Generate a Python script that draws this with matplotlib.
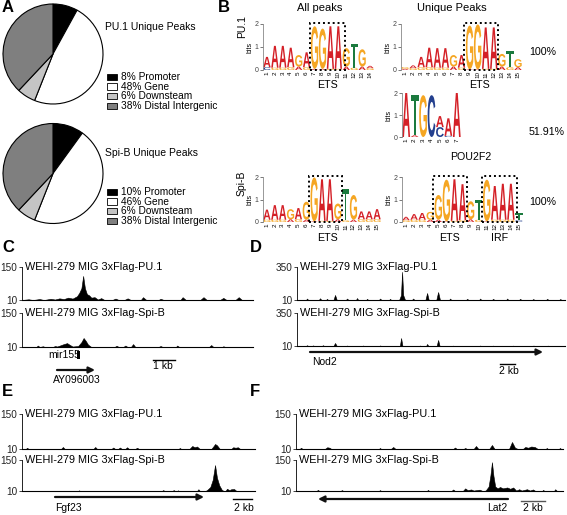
import matplotlib
matplotlib.use('Agg')
import matplotlib.pyplot as plt
from matplotlib.textpath import TextPath
from matplotlib.patches import PathPatch, Rectangle
from matplotlib.font_manager import FontProperties
from matplotlib.transforms import Affine2D

plt.rcParams['font.family'] = ['Liberation Sans', 'DejaVu Sans']

# ---------------- data ----------------
pie_labels = ['Promoter', 'Gene', 'Downsteam', 'Distal Intergenic']
pu1_pie = [8, 48, 6, 38]
spib_pie = [10, 46, 6, 38]
pie_colors = ['#000000', '#ffffff', '#c4c4c4', '#7f7f7f']

# sequence logos: main letter + minor letter per position (bits)
pu1_all_main = list('AAAAGAGGAAGTGA')
pu1_all_h = [0.45, 0.95, 0.95, 0.85, 0.5, 0.65, 1.85, 1.75, 1.85, 1.85, 0.8, 1.05, 0.75, 0.1]
pu1_all_minor = list('CGGGAGAAGGAGAG')
pu1_all_mh = [0.12, 0.1, 0.1, 0.12, 0.15, 0.12, 0.05, 0.05, 0.05, 0.05, 0.15, 0.1, 0.15, 0.08]

pu1_uni_main = list('GAAAAAGAGGAAGTG')
pu1_uni_h = [0.08, 0.12, 0.45, 0.85, 0.85, 0.85, 0.5, 0.55, 1.9, 1.95, 1.8, 1.8, 0.55, 0.7, 0.35]
pu1_uni_minor = list('AGGGGGAGAAGGAGA')
pu1_uni_mh = [0.05, 0.08, 0.12, 0.12, 0.1, 0.1, 0.15, 0.1, 0.03, 0.03, 0.05, 0.05, 0.15, 0.12, 0.12]

pou_main = list('ATGCAAA')
pou_h = [2.0, 1.85, 1.9, 1.9, 0.5, 0.8, 2.0]
pou_minor = list('GAACCCG')
pou_mh = [0.0, 0.08, 0.0, 0.0, 0.45, 0.05, 0.0]

spib_all_main = list('AAAGAGGAAGTGAAA')
spib_all_h = [0.45, 0.65, 0.65, 0.45, 0.5, 0.8, 1.95, 1.85, 1.85, 0.7, 1.4, 1.1, 0.35, 0.35, 0.45]
spib_all_minor = list('GGGAGAAGGAGAGGG')
spib_all_mh = [0.1, 0.1, 0.1, 0.12, 0.12, 0.1, 0.03, 0.05, 0.05, 0.12, 0.08, 0.1, 0.12, 0.12, 0.12]

spib_uni_main = list('AAAGGGAAGTGAAAT')
spib_uni_h = [0.15, 0.25, 0.3, 0.35, 1.1, 1.85, 1.85, 1.6, 0.8, 0.9, 1.85, 1.5, 1.6, 1.6, 0.3]
spib_uni_minor = list('GGGAAAGGAGAGGGC')
spib_uni_mh = [0.08, 0.1, 0.1, 0.1, 0.1, 0.03, 0.05, 0.08, 0.12, 0.1, 0.03, 0.1, 0.1, 0.1, 0.08]

# ChIP-seq tracks: (position in kb, signal)
c_pu1_x = [0, 0.3, 0.5, 0.8, 1.0, 1.3, 1.5, 1.7, 1.9, 2.1, 2.3, 2.5, 2.6, 2.7, 2.78, 2.86, 2.95, 3.05, 3.15, 3.3,
           3.45, 3.6, 3.75, 4.1, 4.25, 4.4, 4.65, 4.8, 4.95, 5.4, 5.5, 5.65, 6.2, 6.3, 6.45, 7.2, 7.3, 7.45, 8.1,
           8.25, 8.4, 9.0, 9.15, 9.3, 9.7, 9.85, 10.0, 10.5]
c_pu1_y = [10, 13, 10, 14, 10, 15, 12, 17, 14, 20, 16, 26, 40, 60, 112, 60, 35, 30, 20, 22,
           12, 18, 10, 10, 16, 10, 10, 17, 10, 10, 22, 10, 10, 15, 10, 10, 22, 10, 10,
           22, 10, 10, 19, 10, 10, 22, 10, 10]
c_spib_x = [0, 0.65, 0.72, 0.8, 0.95, 1.05, 1.4, 1.5, 1.6, 1.9, 2.05, 2.15, 2.3, 2.55, 2.7, 2.8, 2.9, 3.0, 3.15,
            4.2, 4.3, 4.4, 4.6, 4.7, 4.8, 4.95, 5.05, 5.15, 6.2, 6.3, 6.4, 7.0, 7.05, 7.15, 8.5, 8.6, 8.7,
            9.1, 9.15, 9.25, 10.5]
c_spib_y = [10, 10, 16, 10, 13, 10, 10, 14, 12, 22, 26, 20, 12, 14, 30, 47, 35, 20, 10,
            10, 15, 10, 10, 16, 10, 10, 22, 10, 10, 14, 10, 10, 16, 10, 10, 18, 10,
            10, 13, 10, 10]

d_pu1_x = [0, 1.2, 1.33, 1.5, 2.9, 3.07, 3.25, 3.85, 4.0, 4.15, 4.85, 5.07, 5.3, 6.5, 6.67, 6.85, 7.85, 8.0, 8.15,
           9.2, 9.33, 9.5, 10.9, 11.07, 11.25, 12.25, 12.4, 12.55, 13.6, 13.85, 14.0, 14.15, 14.4, 15.3, 15.47,
           15.65, 17.1, 17.33, 17.55, 18.55, 18.8, 19.05, 20.25, 20.4, 20.55, 22.5, 22.67, 22.85, 24.25, 24.4,
           24.55, 25.95, 26.13, 26.3, 27.85, 28.0, 28.15, 29.55, 29.73, 29.9, 31.3, 31.47, 31.65, 33.15, 33.33,
           33.5, 34.9, 35.07, 35.25, 35.7]
d_pu1_y = [10, 10, 25, 10, 10, 28, 10, 10, 22, 10, 10, 62, 10, 10, 25, 10, 10, 30, 10,
           10, 22, 10, 10, 25, 10, 10, 22, 10, 10, 60, 300, 60, 10, 10, 25,
           10, 10, 82, 10, 10, 92, 10, 10, 25, 10, 10, 22, 10, 10, 25,
           10, 10, 22, 10, 10, 25, 10, 10, 22, 10, 10, 20, 10, 10, 22,
           10, 10, 20, 10, 10]
d_spib_x = [0, 1.2, 1.33, 1.5, 2.0, 2.13, 2.3, 3.3, 3.47, 3.6, 4.85, 5.07, 5.3, 6.6, 6.67, 6.8, 8.7, 8.8, 8.95,
            11.0, 11.07, 11.2, 13.7, 13.87, 14.05, 16.3, 16.4, 16.5, 17.2, 17.33, 17.5, 18.6, 18.8, 19.0,
            20.7, 20.8, 20.9, 24.3, 24.4, 24.5, 26.0, 26.13, 26.25, 28.7, 28.8, 28.9, 31.4, 31.5, 31.6,
            33.3, 33.4, 33.5, 35.7]
d_spib_y = [10, 10, 18, 10, 10, 16, 10, 10, 18, 10, 10, 41, 10, 10, 15, 10, 10, 15, 10,
            10, 16, 10, 10, 92, 10, 10, 15, 10, 10, 31, 10, 10, 72, 10,
            10, 14, 10, 10, 15, 10, 10, 14, 10, 10, 14, 10, 10, 15, 10,
            10, 14, 10, 10]

e_pu1_x = [0, 0.4, 0.53, 0.7, 4.1, 4.3, 4.5, 7.5, 7.7, 7.9, 9.4, 9.6, 9.8, 10.1, 10.3, 10.5, 10.85, 11.05, 11.25,
           11.9, 12.1, 12.3, 16.45, 16.6, 16.75, 17.6, 17.9, 18.15, 18.4, 18.7, 19.9, 20.15, 20.3, 20.5, 20.8,
           22.0, 22.2, 22.45, 22.7, 22.95, 24.5]
e_pu1_y = [10, 10, 15, 10, 10, 18, 10, 10, 18, 10, 10, 16, 10, 10, 16, 10, 10, 17, 10,
           10, 15, 10, 10, 14, 10, 10, 22, 17, 20, 10, 10, 22, 30, 25, 10,
           10, 17, 15, 17, 10, 10]
e_spib_x = [0, 5.9, 6.0, 6.1, 14.7, 14.85, 15.0, 15.8, 15.95, 16.1, 16.3, 16.4, 16.5, 18.4, 18.55, 18.7,
            19.3, 19.5, 19.8, 20.05, 20.3, 20.5, 20.75, 21.0, 21.2, 21.4, 21.55, 21.8, 22.0, 22.3, 22.55, 24.5]
e_spib_y = [10, 10, 13, 10, 10, 14, 10, 10, 14, 10, 10, 13, 10, 10, 18, 10,
            10, 16, 28, 60, 127, 70, 35, 16, 10, 10, 20, 14, 18, 19, 10, 10]

f_pu1_x = [0, 0.3, 0.42, 0.55, 2.4, 2.6, 2.8, 2.95, 6.9, 7.0, 7.1, 7.9, 8.1, 8.3, 13.1, 13.25, 13.4, 13.95, 14.1,
           14.25, 14.8, 15.0, 15.2, 16.1, 16.33, 16.55, 17.75, 18.0, 18.25, 18.5, 18.9, 19.1, 19.35, 19.6, 19.9,
           20.15, 20.8, 20.9, 21.0, 21.9, 22.0, 22.1, 22.25]
f_pu1_y = [10, 10, 15, 10, 10, 17, 15, 10, 10, 14, 10, 10, 18, 10, 10, 16, 10, 10, 14,
           10, 10, 22, 10, 10, 26, 10, 10, 38, 15, 10, 10, 18, 15, 20, 18,
           10, 10, 14, 10, 10, 14, 10, 10]
f_spib_x = [0, 1.7, 1.83, 1.95, 3.7, 3.83, 3.95, 6.9, 7.0, 7.1, 10.9, 11.0, 11.1, 12.95, 13.1, 13.25, 13.9, 14.1,
            14.3, 14.6, 14.8, 15.3, 15.55, 15.8, 16.05, 16.2, 16.33, 16.45, 16.6, 16.8, 17.0, 17.25, 17.6, 17.85,
            18.1, 18.35, 18.6, 18.8, 19.25, 19.5, 19.75, 19.95, 20.5, 20.6, 20.7, 21.5, 21.6, 21.75, 22.25]
f_spib_y = [10, 10, 15, 10, 10, 14, 10, 10, 14, 10, 10, 15, 10, 10, 17, 10, 10, 22,
            14, 17, 12, 16, 10, 12, 30, 80, 140, 80, 30, 22, 28, 22, 26, 20,
            26, 12, 18, 12, 18, 12, 17, 10, 10, 15, 10, 10, 18, 10, 10]

track_names = ['WEHI-279 MIG 3xFlag-PU.1', 'WEHI-279 MIG 3xFlag-Spi-B']

# ---------------- figure ----------------
W, H = 567, 515
DPI = 100
fig = plt.figure(figsize=(W / DPI, H / DPI), dpi=DPI)


def px_axes(x0, y0, x1, y1):
    return fig.add_axes([x0 / W, 1 - y1 / H, (x1 - x0) / W, (y1 - y0) / H])


ov = px_axes(0, 0, W, H)
ov.set_xlim(0, W)
ov.set_ylim(H, 0)
ov.axis('off')
ov.set_zorder(10)

# panel letters
for lab, x, y in [('A', 2, 8), ('B', 218, 8), ('C', 2, 248), ('D', 250, 248), ('E', 2, 391), ('F', 250, 391)]:
    ov.text(x, y, lab, ha='left', va='center', fontsize=12, fontweight='bold')

# ---------------- pies ----------------
for cy, vals, title, ty, ly in [(54, pu1_pie, 'PU.1 Unique Peaks', 27, 77),
                                 (173.5, spib_pie, 'Spi-B Unique Peaks', 153, 192)]:
    ax = px_axes(2, cy - 51, 104, cy + 51)
    ax.pie(vals, colors=pie_colors, startangle=90, counterclock=False,
           wedgeprops=dict(edgecolor='black', linewidth=0.8))
    ax.set_xlim(-1.02, 1.02)
    ax.set_ylim(-1.02, 1.02)
    ov.text(105, ty, title, ha='left', va='center', fontsize=7.5)
    for i, (v, lab) in enumerate(zip(vals, pie_labels)):
        y = ly + i * 9.6
        ov.add_patch(Rectangle((107, y - 3.2), 10, 6.4, facecolor=pie_colors[i], edgecolor='black', lw=0.6))
        ov.text(121, y, f'{v}% {lab}', ha='left', va='center', fontsize=7.3)

# ---------------- logos ----------------
LOGO_FP = FontProperties(family='Liberation Sans', weight='bold')
letter_colors = {'A': '#d42027', 'C': '#24408e', 'G': '#f5a623', 'T': '#1b7a3e'}


def draw_letter(ax, ch, x, y0, h, width=0.92):
    tp = TextPath((0, 0), ch, size=1, prop=LOGO_FP)
    bb = tp.get_extents()
    tr = Affine2D().translate(-bb.x0, -bb.y0).scale(width / bb.width, h / bb.height).translate(x - width / 2, y0)
    ax.add_patch(PathPatch(tr.transform_path(tp), facecolor=letter_colors[ch], edgecolor='none'))


def logo(rect, main, main_h, minor, minor_h, boxes):
    ax = px_axes(*rect)
    n = len(main)
    for i in range(n):
        stack = sorted([(minor_h[i], minor[i]), (main_h[i], main[i])])
        y = 0
        for h, ch in stack:
            if h > 0:
                draw_letter(ax, ch, i + 1, y, h)
                y += h
    ax.set_xlim(0.5, n + 0.5)
    ax.set_ylim(0, 2)
    ax.set_xticks(range(1, n + 1))
    ax.set_xticklabels([str(k) for k in range(1, n + 1)], rotation=90, fontsize=4.5)
    ax.tick_params(axis='x', length=0, pad=1)
    ax.set_yticks([0, 1, 2])
    ax.tick_params(axis='y', labelsize=5, length=2, width=0.5, pad=1, colors='#444')
    ax.set_ylabel('bits', fontsize=5, labelpad=1)
    for s in ['top', 'right', 'bottom']:
        ax.spines[s].set_visible(False)
    ax.spines['left'].set_color('#888')
    ax.spines['left'].set_linewidth(0.6)
    for a, b in boxes:
        ax.add_patch(Rectangle((a, 0), b - a, 2.05, fill=False, ls=(0, (1, 1.5)), lw=1.4,
                               ec='black', clip_on=False))
    ax.patch.set_alpha(0)
    return ax


logo((263, 24, 374, 70), pu1_all_main, pu1_all_h, pu1_all_minor, pu1_all_mh, [(6.4, 10.8)])
logo((401, 24, 522, 70), pu1_uni_main, pu1_uni_h, pu1_uni_minor, pu1_uni_mh, [(8.35, 12.55)])
logo((402, 93, 461, 137), pou_main, pou_h, pou_minor, pou_mh, [])
logo((263, 177, 381, 222), spib_all_main, spib_all_h, spib_all_minor, spib_all_mh, [(6.4, 10.6)])
logo((402, 177, 523, 222), spib_uni_main, spib_uni_h, spib_uni_minor, spib_uni_mh, [(4.4, 8.5), (10.4, 14.8)])

ov.text(320, 8, 'All peaks', ha='center', va='center', fontsize=8)
ov.text(452, 8, 'Unique Peaks', ha='center', va='center', fontsize=8)
ov.text(242, 27, 'PU.1', ha='center', va='center', rotation=90, fontsize=7.5)
ov.text(242, 183, 'Spi-B', ha='center', va='center', rotation=90, fontsize=7.5)
ov.text(328, 85, 'ETS', ha='center', va='center', fontsize=7.7)
ov.text(480, 85, 'ETS', ha='center', va='center', fontsize=7.7)
ov.text(471, 157, 'POU2F2', ha='center', va='center', fontsize=7.7)
ov.text(327, 238, 'ETS', ha='center', va='center', fontsize=7.7)
ov.text(450, 238, 'ETS', ha='center', va='center', fontsize=7.7)
ov.text(500, 238, 'IRF', ha='center', va='center', fontsize=7.7)
ov.text(529, 52, '100%', ha='left', va='center', fontsize=7.7)
ov.text(529, 132, '51.91%', ha='left', va='center', fontsize=7.7)
ov.text(529, 202, '100%', ha='left', va='center', fontsize=7.7)


# ---------------- tracks ----------------
def track(rect, xs, ys, xmax, top, name):
    ax = px_axes(*rect)
    ax.fill_between(xs, 10, ys, facecolor='black', edgecolor='black', lw=0.4)
    ax.set_xlim(0, xmax)
    ax.set_ylim(10, top)
    ax.set_xticks([])
    ax.set_yticks([10, top])
    ax.tick_params(axis='y', labelsize=7.2, length=2, width=0.6, pad=1.5, colors='#222')
    for s in ['top', 'right']:
        ax.spines[s].set_visible(False)
    ax.spines['left'].set_linewidth(0.6)
    ax.spines['bottom'].set_linewidth(0.8)
    ax.patch.set_alpha(0)
    ov.text(rect[0] + 3, rect[1], name, ha='left', va='center', fontsize=7.8)
    return ax


track((22, 267, 253, 300), c_pu1_x, c_pu1_y, 10.5, 150, track_names[0])
track((22, 313, 253, 347), c_spib_x, c_spib_y, 10.5, 150, track_names[1])
track((297, 267, 565, 300), d_pu1_x, d_pu1_y, 35.7, 350, track_names[0])
track((297, 313, 565, 346), d_spib_x, d_spib_y, 35.7, 350, track_names[1])
track((22, 414, 255, 449), e_pu1_x, e_pu1_y, 24.5, 150, track_names[0])
track((22, 460, 255, 491), e_spib_x, e_spib_y, 24.5, 150, track_names[1])
track((296, 414, 563, 449), f_pu1_x, f_pu1_y, 22.25, 150, track_names[0])
track((296, 460, 563, 491), f_spib_x, f_spib_y, 22.25, 150, track_names[1])

arrow_kw = dict(arrowstyle='-|>', lw=1.6, color='#111', mutation_scale=9, shrinkA=0, shrinkB=0)
# C
ov.text(48, 355, 'mir155', ha='left', va='center', fontsize=7.5)
ov.add_patch(Rectangle((77, 351), 2.5, 8, facecolor='black', edgecolor='none'))
ov.plot([153, 175], [360, 360], color='black', lw=1)
ov.text(163, 366, '1 kb', ha='center', va='center', fontsize=7.5)
ov.annotate('', xy=(95, 370), xytext=(57, 370), arrowprops=arrow_kw)
ov.text(77, 380, 'AY096003', ha='center', va='center', fontsize=7.5)
# D
ov.annotate('', xy=(543, 352), xytext=(310, 352), arrowprops=arrow_kw)
ov.text(312, 362, 'Nod2', ha='left', va='center', fontsize=7.5)
ov.plot([500, 515], [364, 364], color='black', lw=1)
ov.text(509, 371, '2 kb', ha='center', va='center', fontsize=7.5)
# E
ov.annotate('', xy=(204, 497), xytext=(55, 497), arrowprops=arrow_kw)
ov.text(55, 508, 'Fgf23', ha='left', va='center', fontsize=7.5)
ov.plot([233, 252], [499, 499], color='black', lw=1)
ov.text(244, 508, '2 kb', ha='center', va='center', fontsize=7.5)
# F
ov.annotate('', xy=(318, 499), xytext=(508, 499), arrowprops=arrow_kw)
ov.text(497, 508, 'Lat2', ha='center', va='center', fontsize=7.5)
ov.plot([521, 545], [501, 501], color='#555', lw=1)
ov.text(533, 508, '2 kb', ha='center', va='center', fontsize=7.5)

fig.savefig('out.png', dpi=DPI)
